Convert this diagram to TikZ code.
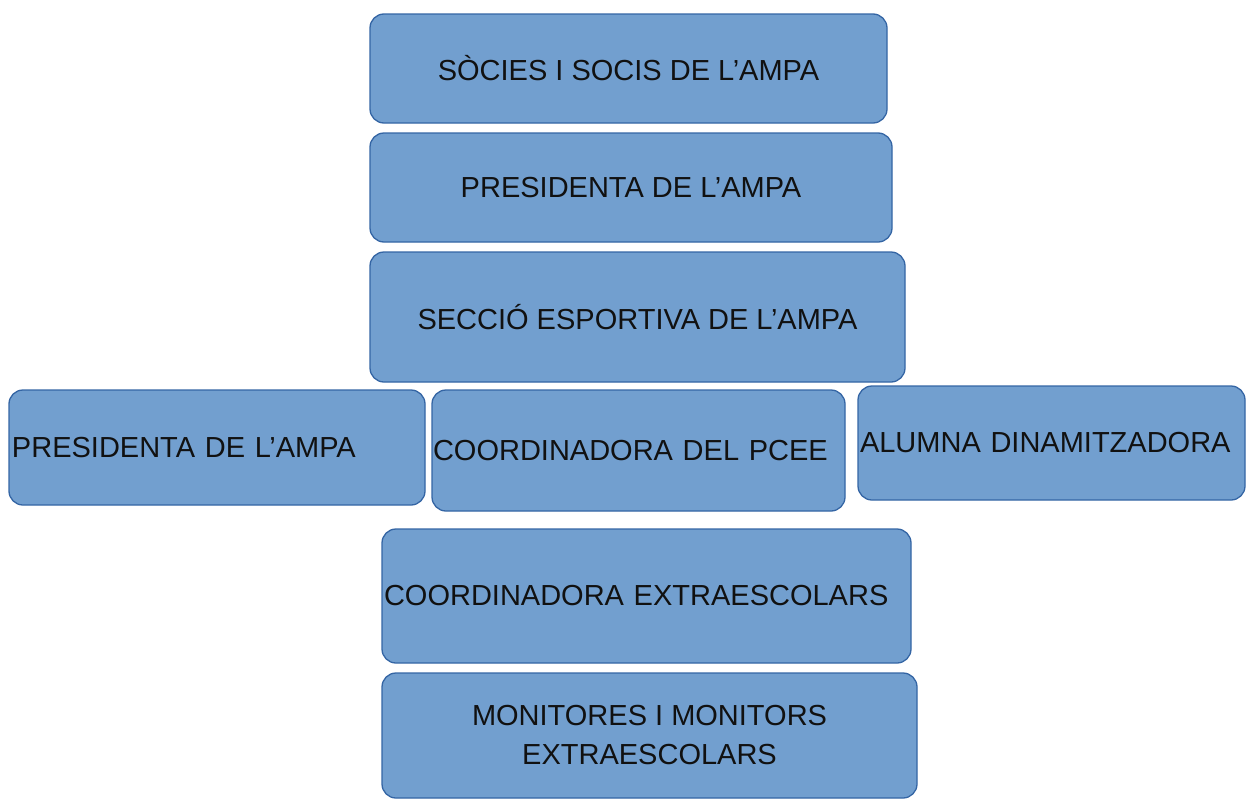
\documentclass[tikz,border=0pt]{standalone}
\usepackage{fontspec}
\setmainfont{Liberation Sans}
\definecolor{boxfill}{HTML}{729FCF}
\definecolor{boxline}{HTML}{3465A4}
\definecolor{txt}{HTML}{111111}
\begin{document}
\begin{tikzpicture}[x=1pt,y=-1pt,
  box/.style={draw=boxline,fill=boxfill,line width=1.3pt,rounded corners=14pt,
    text=txt,font=\fontsize{29}{39}\selectfont,inner sep=0pt,align=center},
  lbox/.style={box,inner xsep=2pt,align=left}]
\useasboundingbox (0,0) rectangle (1247,798);
\node[box,minimum width=517pt,minimum height=109pt] (socis) at (628.5,68.5) {SÒCIES I SOCIS DE L’AMPA};
\node[box,minimum width=522pt,minimum height=109pt] (pres) at (631,187.5) {PRESIDENTA DE L’AMPA};
\node[box,minimum width=535pt,minimum height=130pt] (seccio) at (637.5,317) {SECCIÓ ESPORTIVA DE L’AMPA};
\node[lbox,text width=410pt,minimum height=115pt,inner xsep=3pt] (pres2) at (217,447.5) {PRESIDENTA DE L'AMPA};
\node[lbox,text width=411pt,minimum height=121pt,inner xsep=1pt] (pcee) at (638.5,450.5) {COORDINADORA DEL PCEE};
\node[lbox,text width=383pt,minimum height=114pt] (alumna) at (1051.5,443) {ALUMNA DINAMITZADORA};
\node[lbox,text width=525pt,minimum height=134pt] (extra) at (646.5,596) {COORDINADORA EXTRAESCOLARS};
\node[box,minimum width=535pt,minimum height=125pt] (monit) at (649.5,735.5) {MONITORES I MONITORS\\EXTRAESCOLARS};
\end{tikzpicture}
\end{document}
